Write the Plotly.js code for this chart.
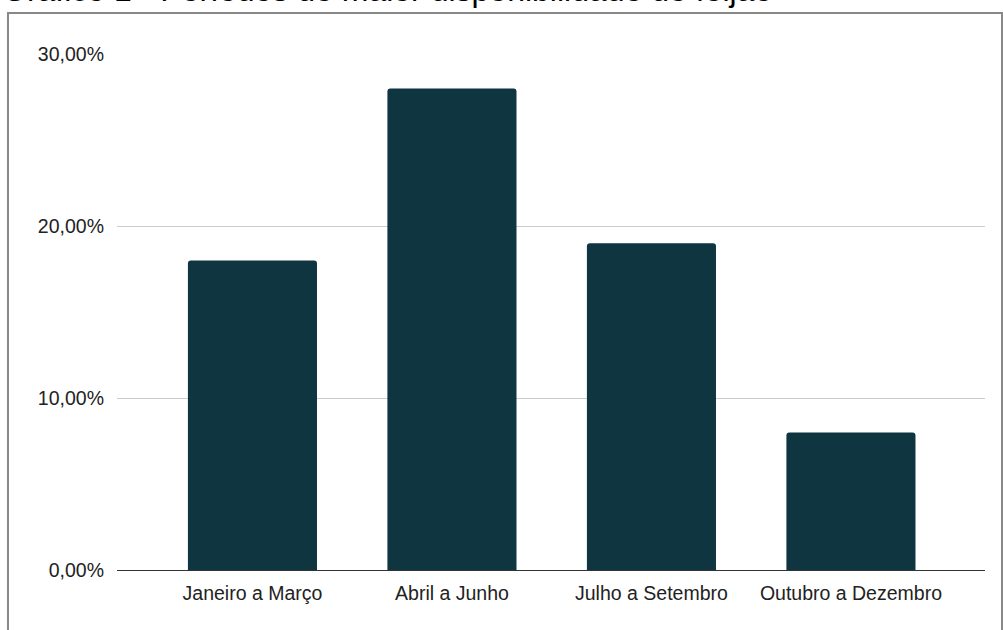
<!DOCTYPE html>
<html>
<head>
<meta charset="utf-8">
<script src="https://cdn.plot.ly/plotly-3.0.1.min.js"></script>
<style>html,body{margin:0;padding:0;background:#fff;}#chart{width:1003px;height:630px;}</style>
</head>
<body>
<div id="chart"></div>
<script>
const categories = ["Janeiro a Março", "Abril a Junho", "Julho a Setembro", "Outubro a Dezembro"];
const values = [0.18, 0.28, 0.19, 0.08];
const yTicks = [0, 0.10, 0.20, 0.30];
const chartTitle = "Gráfico 1 - Períodos de maior disponibilidade de feijão";

const trace = {
  type: "bar",
  x: categories,
  y: values,
  marker: {color: "#0f3540", cornerradius: 3},
  hoverinfo: "x+y"
};

const layout = {
  width: 1003,
  height: 630,
  margin: {l: 117, r: 18, t: 54, b: 60},
  paper_bgcolor: "#ffffff",
  plot_bgcolor: "#ffffff",
  separators: ",.",
  bargap: 0.353,
  showlegend: false,
  font: {family: "Liberation Sans, Arial, sans-serif", size: 19.5, color: "#222222"},
  title: {
    text: chartTitle,
    font: {family: "Liberation Sans, Arial, sans-serif", size: 32, color: "#000000"},
    xref: "container", x: 0.002, xanchor: "left",
    yref: "paper", y: 1, yanchor: "bottom",
    pad: {b: 53}
  },
  xaxis: {
    type: "category",
    range: [-0.679, 3.672],
    showgrid: false,
    showline: false,
    ticks: "",
    zeroline: false,
    ticklabelstandoff: 9,
    tickfont: {size: 19.5, color: "#222222"}
  },
  yaxis: {
    range: [0, 0.30],
    tickvals: yTicks,
    tickformat: ".2%",
    showgrid: true,
    gridcolor: "#cccccc",
    gridwidth: 1,
    zeroline: true,
    zerolinecolor: "#333333",
    zerolinewidth: 1,
    showline: false,
    ticks: "",
    ticklen: 0,
    ticklabelstandoff: 12,
    tickfont: {size: 19.5, color: "#222222"}
  },
  shapes: [{
    type: "rect",
    xref: "paper", yref: "paper",
    x0: -0.1256, x1: 1.0196,
    y0: -0.15, y1: 1.0795,
    line: {color: "#888888", width: 2},
    fillcolor: "rgba(0,0,0,0)",
    layer: "below"
  }]
};

Plotly.newPlot("chart", [trace], layout, {displayModeBar: false, staticPlot: true});
</script>
</body>
</html>
